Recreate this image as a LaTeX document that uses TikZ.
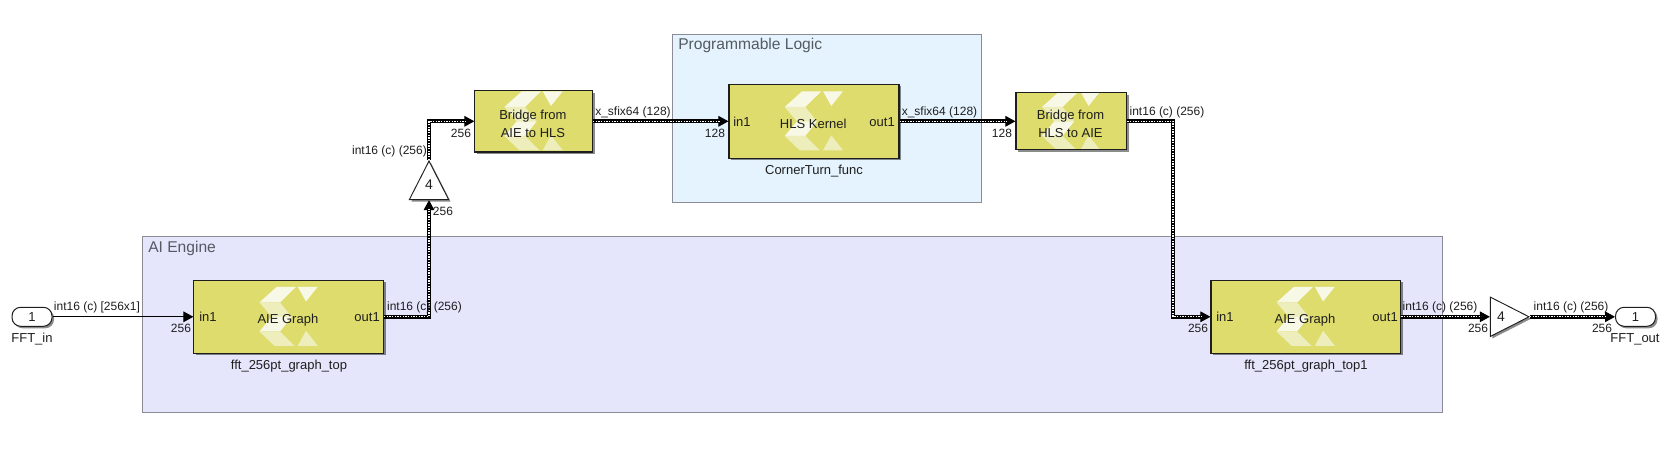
\documentclass[tikz,border=0pt]{standalone}
\usepackage{fontspec}
\setmainfont{Liberation Sans}
\usetikzlibrary{arrows.meta,shadows,shapes.geometric}
\definecolor{blockfill}{HTML}{DDDC6C}
\definecolor{plfill}{HTML}{E4F3FE}
\definecolor{aifill}{HTML}{E5E5FC}
\definecolor{areaedge}{HTML}{8C8C96}
\definecolor{areatext}{HTML}{555A62}
\definecolor{logoa}{HTML}{F8F8E6}
\definecolor{logob}{HTML}{EEEEBC}
\definecolor{txt}{HTML}{1E1E1E}
\newcommand\xlogo[1]{%
  \begin{scope}[shift={(path picture bounding box.center)},scale=#1]
    \fill[logoa] (-12,-30) -- (7.3,-30) -- (-8.7,-14.3) -- (-29.3,-14.3) -- cycle;
    \fill[logob] (-29.3,-14.3) -- (-8.7,-14.3) -- (3,0) -- (-17,0) -- cycle;
    \fill[logoa] (-17,0) -- (3,0) -- (-8.7,14.7) -- (-29.3,14.7) -- cycle;
    \fill[logob] (-29.3,14.7) -- (-8.7,14.7) -- (5.7,29) -- (-14.3,29) -- cycle;
    \fill[logoa] (9,-30) -- (29,-30) -- (17.3,-15.3) -- cycle;
    \fill[logob] (17.3,14) -- (29,29) -- (9,29) -- cycle;
  \end{scope}}
\newcommand\bus[1]{%
  \draw[bustip] #1;
  \draw[busouter] #1;
  \draw[businner] #1;}
\tikzset{
  softshadow/.style={drop shadow={shadow xshift=1.5pt,shadow yshift=-1.5pt,opacity=.45,fill=black}},
  block/.style={rectangle,draw=txt,line width=.85pt,fill=blockfill,softshadow,inner sep=0pt,
    path picture={\xlogo{#1}}},
  blocktext/.style={inner sep=0pt,text=txt,align=center,yshift=-2.25pt,xshift=-.6pt,font=\fontsize{9.75}{13.5}\selectfont},
  area/.style={rectangle,draw=areaedge,line width=.8pt,inner sep=0pt},
  areatitle/.style={anchor=west,inner sep=0pt,text=areatext,font=\fontsize{11.7}{14}\selectfont},
  sig/.style={inner sep=0pt,text=txt,font=\fontsize{9}{11}\selectfont},
  captext/.style={inner sep=0pt,text=txt,font=\fontsize{9.75}{12}\selectfont},
  portname/.style={captext,inner sep=0pt},
  iopt/.style={rectangle,rounded corners=6.5pt,draw=txt,line width=.75pt,fill=white,softshadow,
    minimum width=30pt,minimum height=14.25pt,inner sep=0pt,text=txt,font=\fontsize{9.75}{12}\selectfont},
  gain/.style={isosceles triangle,isosceles triangle apex angle=54,draw=txt,line width=.7pt,fill=white,
    softshadow,inner sep=0pt,minimum height=29pt,text=txt,font=\fontsize{10.5}{12}\selectfont},
  bustip/.style={line width=.75pt,black,-{Triangle[length=7.5pt,width=8pt]}},
  busouter/.style={line width=3.1pt,black,shorten >=6.5pt},
  businner/.style={line width=1pt,white,dash pattern=on 1pt off 1pt,shorten >=6.5pt},
  thinwire/.style={line width=.8pt,black,-{Triangle[length=7.5pt,width=8pt]}}
}
\begin{document}
\begin{tikzpicture}[x=.75pt,y=-.75pt]
\useasboundingbox (0,0) rectangle (1672,459);
% areas
\node[area,fill=plfill,minimum width=231.75pt,minimum height=125.5pt] (pl) at (827,118.5) {};
\node[area,fill=aifill,minimum width=975.5pt,minimum height=132pt] (ai) at (792.5,324.3) {};
\node[areatitle] (pltitle) at (678,45.5) {Programmable Logic};
\node[areatitle] (aititle) at (148,248) {AI Engine};
% blocks
\node[block=1,minimum width=142.2pt,minimum height=54.75pt,label={[blocktext,name=aie1t]center:{AIE Graph}}] (aie1) at (288.7,316.8) {};
\node[block=1,minimum width=142.2pt,minimum height=54.75pt,label={[blocktext,name=aie2t]center:{AIE Graph}}] (aie2) at (1305.8,316.8) {};
\node[block=1,minimum width=127.5pt,minimum height=55.5pt,label={[blocktext,name=hlst]center:{HLS Kernel}}] (hls) at (814,121.3) {};
\node[block=.84,minimum width=88.2pt,minimum height=46pt,label={[blocktext,name=br1t]center:{Bridge from\\AIE to HLS}}] (br1) at (533.7,121.3) {};
\node[block=.84,minimum width=83pt,minimum height=42.75pt,label={[blocktext,name=br2t]center:{Bridge from\\HLS to AIE}}] (br2) at (1071.3,121.3) {};
% ports
\node[iopt] (in) at (32,316.8) {1};
\node[iopt] (out) at (1635.5,316.8) {1};
% gains
\node[gain,shape border rotate=90,anchor=apex] (g1) at (429,160) {\raisebox{3pt}[\height][\depth]{4}};
\node[gain,anchor=apex] (g2) at (1530,316.8) {4};
\coordinate (c2) at (1173,121.3);
% wires
\draw[thinwire] (in.east) -- (aie1.west);
\bus{(aie1.east) -| (g1.lower side)}
\bus{(g1.apex) |- (br1.west)}
\bus{(br1.east) -- (hls.west)}
\bus{(hls.east) -- (br2.west)}
\bus{(br2.east) -- (c2) |- (aie2.west)}
\bus{(aie2.east) -- (g2.lower side)}
\bus{(g2.apex) -- (out.west)}
% block names
\node[captext] (n1) at (289,366) {fft\_256pt\_graph\_top};
\node[captext] (n2) at (1306,366) {fft\_256pt\_graph\_top1};
\node[captext] (n3) at (814,171) {CornerTurn\_func};
\node[captext] (n4) at (32,339) {FFT\_in};
\node[captext] (n5) at (1635,339) {FFT\_out};
% port names
\node[portname,anchor=west] (p1) at (199,317) {in1};
\node[portname,anchor=east] (p2) at (380,317) {out1};
\node[portname,anchor=west] (p3) at (1216,317) {in1};
\node[portname,anchor=east] (p4) at (1398,317) {out1};
\node[portname,anchor=west] (p5) at (733,122) {in1};
\node[portname,anchor=east] (p6) at (895,122) {out1};
% signal labels
\node[sig] (s1) at (97,307) {int16 (c) [256x1]};
\node[sig] (s2) at (181,328) {256};
\node[sig] (s3) at (424.5,307) {int16 (c) (256)};
\node[sig] (s4) at (389.5,151) {int16 (c) (256)};
\node[sig] (s5) at (443,211) {256};
\node[sig] (s6) at (461,133) {256};
\node[sig] (s7) at (633,112) {x\_sfix64 (128)};
\node[sig] (s8) at (715,133) {128};
\node[sig] (s9) at (939.5,112) {x\_sfix64 (128)};
\node[sig] (s10) at (1002,133) {128};
\node[sig] (s11) at (1167,112) {int16 (c) (256)};
\node[sig] (s12) at (1198,328) {256};
\node[sig] (s13) at (1440,307) {int16 (c) (256)};
\node[sig] (s14) at (1478,328) {256};
\node[sig] (s15) at (1571,307) {int16 (c) (256)};
\node[sig] (s16) at (1602,328) {256};
\end{tikzpicture}
\end{document}
